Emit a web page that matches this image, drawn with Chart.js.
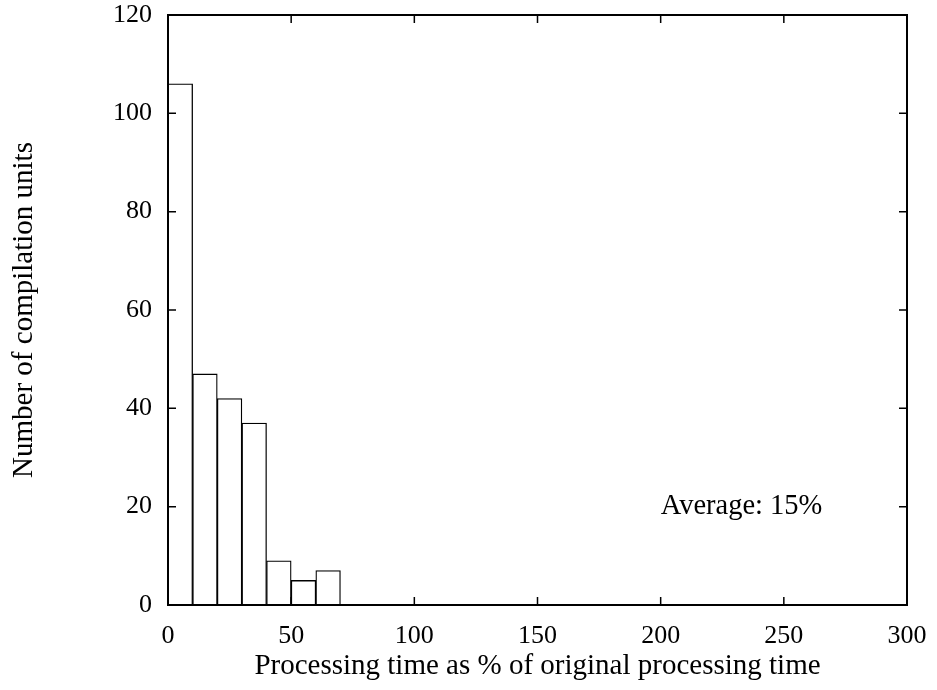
<!DOCTYPE html>
<html>
<head>
<meta charset="utf-8">
<script src="https://cdn.jsdelivr.net/npm/chart.js@4"></script>
<style>
    html, body { margin: 0; padding: 0; background: #fff; }
    #wrap { width: 937px; height: 690px; }
</style>
</head>
<body>
<div id="wrap"><canvas id="HistChart" width="937" height="690"></canvas></div>
<script>
// histogram bins (centres, % of original time) and counts
const bin_centers = [5, 15, 25, 35, 45, 55, 65];
const bin_counts = [106, 47, 42, 37, 9, 5, 7];
const x_ticks = [0, 50, 100, 150, 200, 250, 300];
const y_ticks = [0, 20, 40, 60, 80, 100, 120];

const serif = '"Liberation Serif", "Times New Roman", serif';

const hist_data = {
    datasets: [{
        label: 'Number of compilation units',
        data: bin_centers.map((c, i) => ({ x: c, y: bin_counts[i] })),
        backgroundColor: 'rgba(255, 255, 255, 1)',
        borderColor: 'rgb(0, 0, 0)',
        borderWidth: 1.3,
        borderSkipped: 'bottom',
        barPercentage: 1,
        categoryPercentage: 1
    }]
};

// inward ticks on all four sides, plus the label, like gnuplot
const gnuplotFrame = {
    id: 'gnuplotFrame',
    afterDraw(chart) {
        const ctx = chart.ctx;
        const a = chart.chartArea;
        const xs = chart.scales.x, ys = chart.scales.y;
        const len = 8;
        ctx.save();
        ctx.strokeStyle = '#000';
        ctx.lineWidth = 1.5;
        ctx.beginPath();
        x_ticks.slice(1, -1).forEach(v => {
            const px = xs.getPixelForValue(v);
            ctx.moveTo(px, a.bottom); ctx.lineTo(px, a.bottom - len);
            ctx.moveTo(px, a.top); ctx.lineTo(px, a.top + len);
        });
        y_ticks.slice(1, -1).forEach(v => {
            const py = ys.getPixelForValue(v);
            ctx.moveTo(a.left, py); ctx.lineTo(a.left + len, py);
            ctx.moveTo(a.right, py); ctx.lineTo(a.right - len, py);
        });
        ctx.stroke();
        ctx.lineWidth = 2;
        ctx.strokeRect(a.left, a.top, a.right - a.left, a.bottom - a.top);

        ctx.fillStyle = '#000';
        ctx.font = '28.5px ' + serif;
        ctx.textAlign = 'left';
        ctx.textBaseline = 'middle';
        ctx.fillText('Average: 15%', xs.getPixelForValue(200), ys.getPixelForValue(20));
        ctx.restore();
    }
};

const configHist = {
    type: 'bar',
    data: hist_data,
    options: {
        responsive: false,
        animation: false,
        layout: {
            padding: { left: 0, right: 30, top: 15, bottom: 0 }
        },
        plugins: {
            legend: { display: false },
            tooltip: { enabled: false }
        },
        scales: {
            x: {
                type: 'linear',
                min: 0,
                max: 300,
                offset: false,
                afterFit: s => {
                    s.height = 85;
                    s.paddingLeft = 0;
                    s.paddingRight = 0;
                },
                afterBuildTicks: s => { s.ticks = x_ticks.map(v => ({ value: v })); },
                grid: { display: false, drawTicks: false },
                border: { display: false },
                ticks: {
                    color: '#000',
                    padding: 16,
                    font: { family: serif, size: 26 }
                },
                title: {
                    display: true,
                    text: 'Processing time as % of original processing time',
                    color: '#000',
                    padding: { top: 0, bottom: 6 },
                    font: { family: serif, size: 29 }
                }
            },
            y: {
                min: 0,
                max: 120,
                afterFit: s => {
                    s.width = 168;
                    s.paddingTop = 0;
                    s.paddingBottom = 0;
                },
                afterBuildTicks: s => { s.ticks = y_ticks.map(v => ({ value: v })); },
                grid: { display: false, drawTicks: false },
                border: { display: false },
                ticks: {
                    color: '#000',
                    padding: 16,
                    font: { family: serif, size: 26 }
                },
                title: {
                    display: true,
                    text: 'Number of compilation units',
                    color: '#000',
                    padding: { top: 7, bottom: 0 },
                    font: { family: serif, size: 29 }
                }
            }
        }
    },
    plugins: [gnuplotFrame]
};

const HistChart = new Chart(
    document.getElementById('HistChart'),
    configHist
);
</script>
</body>
</html>
